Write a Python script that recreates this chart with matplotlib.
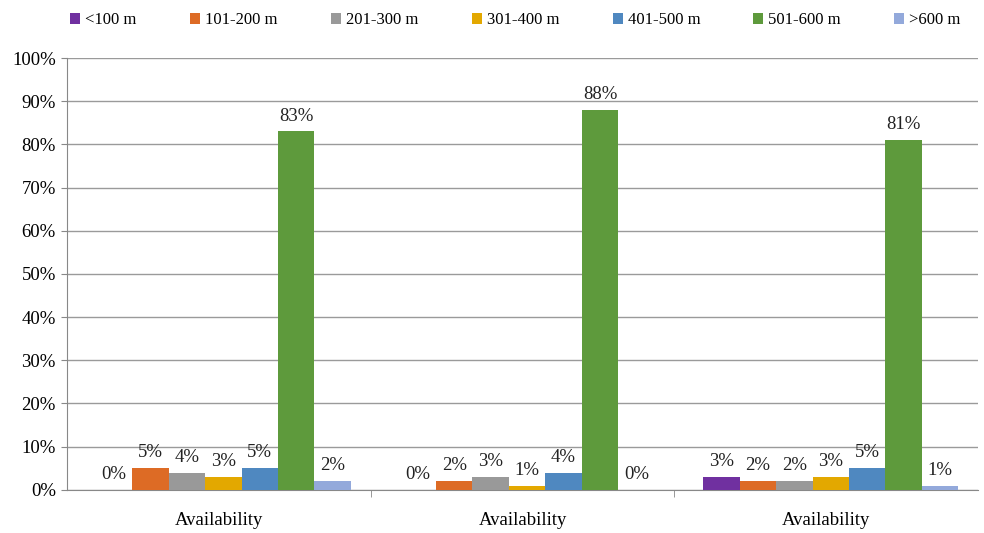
import matplotlib.pyplot as plt
import numpy as np

categories = ["Availability", "Availability", "Availability"]
series_names = ["<100 m", "101-200 m", "201-300 m", "301-400 m", "401-500 m", "501-600 m", ">600 m"]
# percentage share per distance band, one list per category group
values = [
    [0, 0, 3],
    [5, 2, 2],
    [4, 3, 2],
    [3, 1, 3],
    [5, 4, 5],
    [83, 88, 81],
    [2, 0, 1],
]
colors = ["#7030A0", "#DD6B25", "#999999", "#E3A800", "#4F88C0", "#5E9A3C", "#93A9DB"]

plt.rcParams["font.family"] = ["Liberation Serif", "DejaVu Serif"]

fig = plt.figure(figsize=(9.84, 5.33), dpi=100)
ax = fig.add_axes([0.068, 0.081, 0.926, 0.81])

x = np.arange(len(categories))
bar_w = 0.12
for i, (name, vals) in enumerate(zip(series_names, values)):
    offset = (i - 3) * bar_w + 0.015
    bars = ax.bar(x + offset, vals, bar_w, color=colors[i], label=name, zorder=3)
    ax.bar_label(bars, labels=[f"{v}%" for v in vals], padding=5, fontsize=13.5, color="#222222")

ax.set_xlim(-0.5, 2.5)
ax.set_ylim(0, 100)
ax.set_yticks(range(0, 101, 10))
ax.set_yticklabels([f"{t}%" for t in range(0, 101, 10)], fontsize=13.5)
ax.set_xticks(x)
ax.set_xticklabels(categories, fontsize=13.5)
ax.tick_params(axis="x", which="major", length=0, pad=16)
ax.set_xticks([0.5, 1.5], minor=True)
ax.tick_params(axis="x", which="minor", length=5, color="#888888")
ax.tick_params(axis="y", length=4, color="#888888", pad=4)

ax.yaxis.grid(True, color="#9a9a9a", linewidth=1)
ax.set_axisbelow(True)
for side in ["top", "right"]:
    ax.spines[side].set_visible(False)
ax.spines["left"].set_color("#888888")
ax.spines["bottom"].set_color("#888888")

fig.legend(loc="upper center", bbox_to_anchor=(0.524, 1.005), ncol=7, frameon=False,
           fontsize=12, handlelength=0.6, handleheight=0.6, handletextpad=0.3,
           columnspacing=3.2)

fig.savefig("out.png", dpi=100)
